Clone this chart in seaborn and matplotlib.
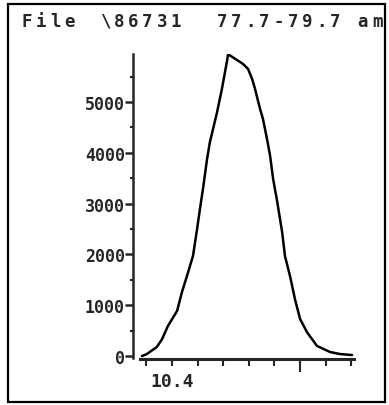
import numpy as np
import pandas as pd
import seaborn as sns
import matplotlib.pyplot as plt
from matplotlib.patches import Rectangle

# retention time (min) and abundance
rt = [10.283, 10.302, 10.341, 10.361, 10.384, 10.420, 10.439, 10.463, 10.482,
      10.498, 10.509, 10.521, 10.537, 10.548, 10.576, 10.595, 10.607, 10.615,
      10.619, 10.677, 10.697, 10.713, 10.724, 10.744, 10.755, 10.771, 10.783,
      10.795, 10.810, 10.830, 10.841, 10.861, 10.880, 10.900, 10.927, 10.966,
      11.017, 11.056, 11.103]
abundance = [0, 40, 180, 330, 590, 890, 1260, 1650, 1970,
             2500, 2890, 3290, 3880, 4210, 4800, 5260, 5590, 5810,
             5940, 5750, 5650, 5450, 5260, 4860, 4670, 4270, 3940,
             3480, 3060, 2440, 1970, 1570, 1120, 730, 470, 200,
             80, 40, 20]

y_ticks = [0, 1000, 2000, 3000, 4000, 5000]
y_labels = ['0', '1000', '2000', '3000', '4000', '5000']
x_ticks = [10.3, 10.4, 10.5, 10.6, 10.7, 10.8, 10.9, 11.0, 11.1]
x_labels = ['', '10.4', '', '', '', '', '', '', '']
title_parts = ['File', '\\86731', '77.7-79.7', 'am']

sns.set_style('white')
plt.rcParams['font.family'] = ['DejaVu Sans Mono', 'DejaVu Sans']

df = pd.DataFrame({'rt': rt, 'abundance': abundance})

fig = plt.figure(figsize=(3.89, 4.06), dpi=100)
ax = fig.add_axes([0.342, 0.113, 0.571, 0.751])
sns.lineplot(data=df, x='rt', y='abundance', color='black', linewidth=1.8, ax=ax)

ax.set_xlim(10.248, 11.115)
ax.set_ylim(-60, 5940)
ax.set_xlabel('')
ax.set_ylabel('')
for s in ['top', 'right']:
    ax.spines[s].set_visible(False)
ax.spines['left'].set_linewidth(1.8)
ax.spines['bottom'].set_linewidth(2.2)
ax.spines['bottom'].set_bounds(10.275, 11.11)
ax.spines['left'].set_bounds(-30, 5940)

ax.set_yticks(y_ticks)
ax.set_yticklabels(y_labels, fontsize=12, fontweight='bold')
ax.set_yticks(np.arange(500, 6000, 1000), minor=True)
ax.set_xticks(x_ticks)
ax.set_xticklabels(x_labels, fontsize=13, fontweight='bold')
ax.tick_params(axis='y', which='major', direction='out', length=5.5, width=1.8, pad=0.5, left=True)
ax.tick_params(axis='y', which='minor', direction='out', length=2, width=1.5, left=True)
ax.tick_params(axis='x', which='major', direction='out', length=5, width=1.5, pad=4, bottom=True)
ax.xaxis.get_major_ticks()[6].tick1line.set_markersize(9)

# outer frame of the printout
fig.patches.append(Rectangle((8 / 389, 3 / 406), 377 / 389, 398 / 406,
                             transform=fig.transFigure, fill=False,
                             edgecolor='black', linewidth=1.6))

# title, printer-style wide characters
starts = [22, 100, 217, 358]
step = 14.2
for part, x0 in zip(title_parts, starts):
    for i, ch in enumerate(part):
        fig.text((x0 + 5 + i * step) / 389, 1 - 27 / 406, ch, ha='center', va='baseline',
                 fontsize=12.5, fontweight='bold', family='DejaVu Sans Mono')

fig.savefig('out.png', dpi=100)
